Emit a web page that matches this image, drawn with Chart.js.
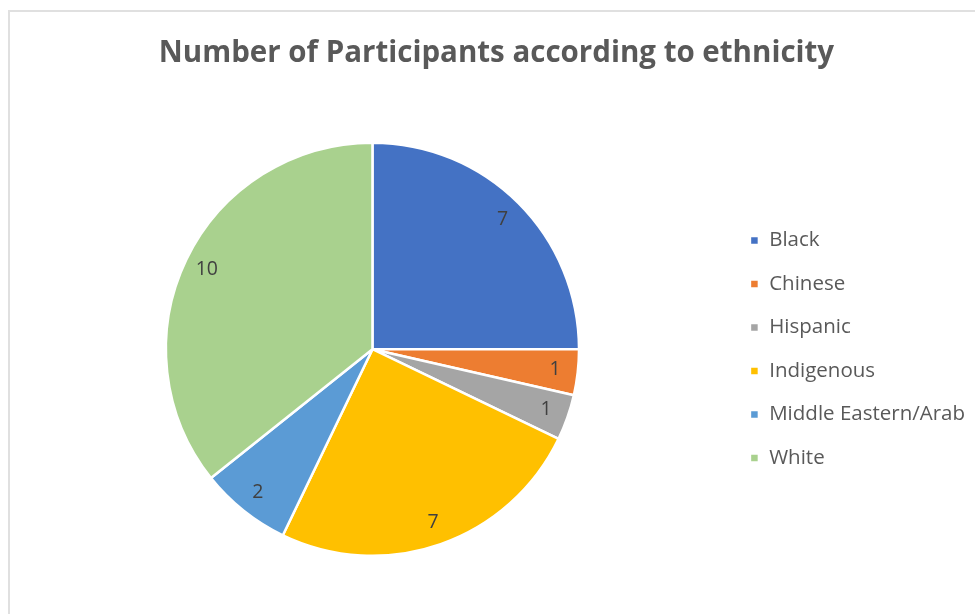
<!DOCTYPE html>
<html>
<head>
<meta charset="utf-8">
<script src="https://cdn.jsdelivr.net/npm/chart.js@4.4.1/dist/chart.umd.min.js"></script>
<style>
  html, body { margin: 0; padding: 0; background: #fff; overflow: hidden; }
  #marco { position: absolute; left: 8px; top: 10px; width: 1000px; height: 700px;
           border: 2px solid #e0e0e0; pointer-events: none; }
  #grafico { position: absolute; left: 0; top: 0; }
</style>
</head>
<body>
<canvas id="grafico" width="975" height="614"></canvas>
<div id="marco"></div>
<script>
const etnias = ['Black', 'Chinese', 'Hispanic', 'Indigenous', 'Middle Eastern/Arab', 'White'];
const participantes = [7, 1, 1, 7, 2, 10];
const cores = ['#4472C4', '#ED7D31', '#A5A5A5', '#FFC000', '#5B9BD5', '#A9D18E'];

const fonte = '"Open Sans", Lato, sans-serif';

// escreve o valor de cada fatia perto da borda, no meio do ângulo
const rotulosFatias = {
    id: 'rotulosFatias',
    afterDatasetsDraw(chart) {
        const ctx = chart.ctx;
        const meta = chart.getDatasetMeta(0);
        ctx.save();
        ctx.font = '19.5px ' + fonte;
        ctx.fillStyle = '#404040';
        ctx.textAlign = 'center';
        ctx.textBaseline = 'middle';
        meta.data.forEach((arco, i) => {
            const p = arco.getProps(['x', 'y', 'startAngle', 'endAngle', 'outerRadius'], true);
            const meio = (p.startAngle + p.endAngle) / 2;
            const r = p.outerRadius * 0.89;
            ctx.fillText(String(chart.data.datasets[0].data[i]), p.x + Math.cos(meio) * r, p.y + Math.sin(meio) * r);
        });
        ctx.restore();
    }
};

const grafico = new Chart(document.getElementById('grafico'), {
    type: 'pie',
    data: {
        labels: etnias,
        datasets: [{
            data: participantes,
            backgroundColor: cores,
            borderColor: '#ffffff',
            borderWidth: 2.5
        }]
    },
    options: {
        responsive: false,
        animation: false,
        layout: {
            padding: { top: 20, bottom: 57, left: 18, right: 0 }
        },
        plugins: {
            title: {
                display: true,
                text: 'Number of Participants according to ethnicity',
                color: '#595959',
                font: { family: fonte, size: 29.5, weight: 'bold' },
                padding: { top: 16, bottom: 70 }
            },
            legend: {
                position: 'right',
                fullSize: false,
                labels: {
                    boxWidth: 9,
                    boxHeight: 9,
                    padding: 23,
                    color: '#595959',
                    font: { family: fonte, size: 20.5 }
                }
            },
            tooltip: { enabled: false }
        }
    },
    plugins: [rotulosFatias]
});
</script>
</body>
</html>
